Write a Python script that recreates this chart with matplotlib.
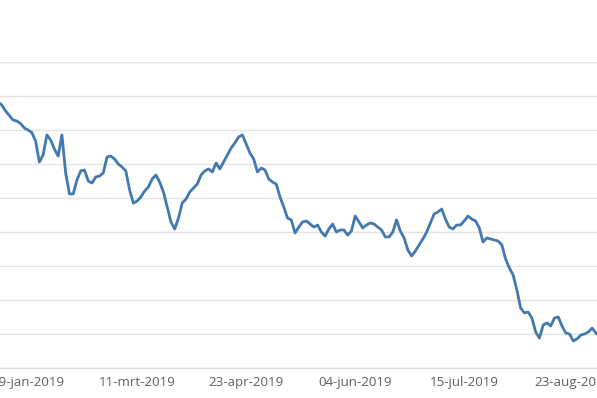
import numpy as np
import matplotlib
matplotlib.use("Agg")
from matplotlib import pyplot as plt

# closing price per trading day
prices = [
    35.65, 35.47, 35.12, 34.85, 34.59, 34.53, 34.38, 34.12, 34.00, 33.85,
    33.35, 32.12, 32.53, 33.71, 33.41, 32.88, 32.47, 33.71, 31.47, 30.24,
    30.24, 31.06, 31.59, 31.65, 31.00, 30.88, 31.24, 31.29, 31.47, 32.41,
    32.47, 32.29, 32.00, 31.82, 31.59, 30.47, 29.70, 29.82, 30.06, 30.41,
    30.65, 31.12, 31.35, 30.94, 30.35, 29.47, 28.59, 28.18, 28.82, 29.71,
    29.94, 30.35, 30.59, 30.82, 31.35, 31.59, 31.71, 31.53, 32.06, 31.71,
    32.12, 32.53, 32.94, 33.24, 33.59, 33.71, 33.18, 32.65, 32.29, 31.53,
    31.76, 31.65, 31.12, 30.94, 30.82, 30.06, 29.47, 28.82, 28.71, 27.94,
    28.29, 28.59, 28.65, 28.47, 28.29, 28.41, 28.00, 27.76, 28.18, 28.47,
    28.00, 28.12, 28.12, 27.82, 28.06, 28.94, 28.59, 28.24, 28.41, 28.53,
    28.47, 28.29, 28.12, 27.71, 27.71, 28.00, 28.71, 28.06, 27.65, 26.94,
    26.59, 26.88, 27.24, 27.59, 28.00, 28.53, 29.06, 29.18, 29.35, 28.76,
    28.29, 28.18, 28.41, 28.41, 28.65, 28.94, 28.76, 28.65, 28.24, 27.41,
    27.65, 27.59, 27.53, 27.47, 27.24, 26.41, 25.88, 25.47, 24.59, 23.53,
    23.24, 23.29, 22.94, 22.12, 21.76, 22.53, 22.65, 22.47, 22.94, 23.00,
    22.47, 22.06, 22.00, 21.59, 21.71, 21.94, 22.00, 22.12, 22.35, 22.06,
    21.88,
]

tick_labels = ["29-jan-2019", "11-mrt-2019", "23-apr-2019",
               "04-jun-2019", "15-jul-2019", "23-aug-2019"]
tick_idx = [8, 37, 66, 95, 124, 153]

fig = plt.figure(figsize=(5.97, 3.98), dpi=100)
# the picture is a crop of a wider chart, so the axes run edge to edge
ax = fig.add_axes([0, 30 / 398, 1, 306 / 398])

x = np.arange(len(prices))
ax.plot(x, prices, color="#4279b0", lw=2.0, solid_joinstyle="round")

ax.set_xlim(2 / 3.76, 599 / 3.76)
ax.set_ylim(20, 38)
ax.set_yticks(np.arange(20, 39, 2))
ax.set_yticklabels([])
ax.grid(axis="y", color="#e3e3e3", lw=1)
ax.set_axisbelow(True)

ax.set_xticks(tick_idx)
ax.set_xticklabels(tick_labels, fontsize=9.6, color="#606060", family="Open Sans")
ax.tick_params(axis="x", length=0, pad=6)
ax.tick_params(axis="y", length=0)

for s in ["top", "left", "right"]:
    ax.spines[s].set_visible(False)
ax.spines["bottom"].set_color("#d8dde6")
ax.spines["bottom"].set_linewidth(1)

fig.savefig("out.png", dpi=100)
